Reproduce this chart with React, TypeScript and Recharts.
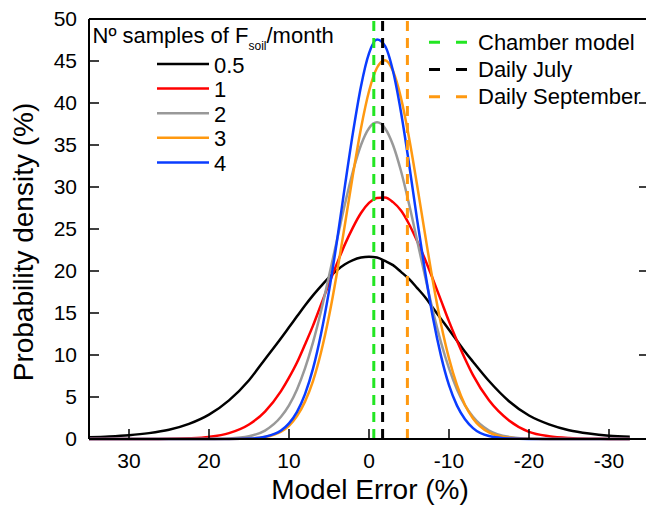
import { LineChart, Line, XAxis, YAxis, ReferenceLine } from 'recharts';

const FONT = '"Liberation Sans", Arial, sans-serif';

// model error (%) sampled along the x axis
const errorPct = [
  35, 32.5, 30, 27.5, 25, 22.5, 20, 17.5, 15,
  13, 11, 10, 9, 8, 7, 6, 5, 4, 3, 2, 1, 0,
  -1, -2, -3, -4, -5, -6, -7, -8, -9, -10, -11, -12, -13,
  -15, -17.5, -20, -22.5, -25, -27.5, -30, -32.6,
];

// probability density (%) for each number of samples per month
const pdf05 = [
  0.2, 0.3, 0.45, 0.7, 1.1, 1.8, 2.9, 4.6, 7.0,
  9.5, 12.0, 13.3, 14.6, 15.9, 17.1, 18.2, 19.25, 20.1, 20.8, 21.3, 21.6, 21.7,
  21.6, 21.2, 20.7, 19.9, 19.05, 18.0, 16.9, 15.6, 14.3, 13.0, 11.7, 10.4, 9.2,
  6.9, 4.5, 2.8, 1.75, 1.05, 0.65, 0.4, 0.28,
];
const pdf1 = [
  0, 0, 0, 0.01, 0.02, 0.08, 0.25, 0.7, 1.73,
  3.27, 5.7, 7.3, 9.1, 11.25, 13.5, 16.0, 18.5, 20.9, 23.2, 25.2, 26.9, 28.1,
  28.7, 28.75, 28.2, 27.2, 25.6, 23.6, 21.4, 19.0, 16.5, 14.0, 11.7, 9.55, 7.6,
  4.6, 2.2, 0.85, 0.33, 0.11, 0.03, 0.01, 0,
];
const pdf2 = [
  0, 0, 0, 0, 0, 0, 0.01, 0.07, 0.33,
  1.0, 2.64, 4.0, 5.9, 8.4, 11.5, 15.2, 19.4, 23.7, 28.0, 31.9, 35.0, 37.0,
  37.7, 37.0, 35.0, 31.9, 28.0, 23.7, 19.4, 15.2, 11.5, 8.4, 5.9, 4.0, 2.64,
  1.0, 0.25, 0.05, 0.01, 0, 0, 0, 0,
];
const pdf3 = [
  0, 0, 0, 0, 0, 0, 0, 0.01, 0.05,
  0.24, 0.88, 1.58, 2.72, 4.45, 6.9, 10.3, 14.6, 19.8, 25.6, 31.5, 37.0, 41.4,
  44.2, 45.1, 43.8, 40.6, 35.9, 30.3, 24.4, 18.7, 13.7, 9.6, 6.4, 4.05, 2.45,
  0.78, 0.14, 0.02, 0, 0, 0, 0, 0,
];
const pdf4 = [
  0, 0, 0, 0, 0, 0, 0, 0.01, 0.05,
  0.26, 1.0, 1.86, 3.24, 5.34, 8.37, 12.5, 17.6, 23.6, 30.2, 36.5, 42.0, 45.9,
  47.55, 46.8, 43.8, 38.9, 32.8, 26.2, 20.0, 14.4, 9.9, 6.4, 3.97, 2.35, 1.3,
  0.35, 0.05, 0, 0, 0, 0, 0, 0,
];

const sampleNames = ['0.5', '1', '2', '3', '4'];
const sampleColors = ['#000000', '#ff0000', '#999999', '#ff9910', '#0a3cff'];
const sampleValues = [pdf05, pdf1, pdf2, pdf3, pdf4];

// mean errors of the reference models
const refNames = ['Chamber model', 'Daily July', 'Daily September'];
const refErrors = [-0.6, -1.7, -4.8];
const refColors = ['#22e622', '#000000', '#ff9910'];

const xTicks = [30, 20, 10, 0, -10, -20, -30];
const yTicks = [0, 5, 10, 15, 20, 25, 30, 35, 40, 45, 50];
const rightTicks = [10, 20, 30, 40];

const rows = errorPct.map((x, i) => {
  const row: Record<string, number> = { x };
  sampleValues.forEach((vals, s) => {
    row['s' + s] = vals[i];
  });
  return row;
});

const tickStyle = { fill: '#000', fontSize: 21, fontFamily: FONT };

export default function App() {
  return (
    <div
      style={{
        position: 'absolute',
        left: 0,
        top: 0,
        width: 646,
        height: 506,
        overflow: 'hidden',
        background: '#fff',
        fontFamily: FONT,
      }}
    >
      <LineChart width={659} height={506} data={rows} margin={{ top: 19, right: 0, bottom: 0, left: 0 }}>
        <XAxis
          dataKey="x"
          type="number"
          domain={[-35, 35]}
          reversed
          allowDataOverflow
          ticks={xTicks}
          interval={0}
          height={67}
          stroke="#000"
          strokeWidth={2}
          tickSize={-10}
          tickMargin={24}
          tick={tickStyle}
          tickLine={{ stroke: '#000', strokeWidth: 1.5 }}
        />
        <YAxis
          domain={[0, 50]}
          ticks={yTicks}
          interval={0}
          width={89}
          stroke="#000"
          strokeWidth={2}
          tickSize={-10}
          tickMargin={22}
          tick={tickStyle}
          tickLine={{ stroke: '#000', strokeWidth: 1.5 }}
        />
        <YAxis
          yAxisId="r"
          orientation="right"
          domain={[0, 50]}
          allowDataOverflow
          ticks={rightTicks}
          interval={0}
          width={10}
          stroke="#000"
          strokeWidth={2}
          tickSize={-10}
          tick={() => <g />}
          tickLine={{ stroke: '#000', strokeWidth: 1.5 }}
        />
        <ReferenceLine y={50} stroke="#000" strokeWidth={2} />
        {/* invisible series so the right frame axis gets drawn */}
        <Line
          yAxisId="r"
          dataKey="s0"
          stroke="none"
          dot={false}
          activeDot={false}
          legendType="none"
          isAnimationActive={false}
        />
        {sampleNames.map((n, s) => (
          <Line
            key={n}
            dataKey={'s' + s}
            type="monotone"
            stroke={sampleColors[s]}
            strokeWidth={2.5}
            dot={false}
            activeDot={false}
            isAnimationActive={false}
          />
        ))}
        {refNames.map((n, i) => (
          <ReferenceLine
            key={n}
            x={refErrors[i]}
            stroke={refColors[i]}
            strokeWidth={3}
            strokeDasharray="10 7"
          />
        ))}
      </LineChart>

      <svg
        width={646}
        height={506}
        style={{ position: 'absolute', left: 0, top: 0, pointerEvents: 'none' }}
        fontFamily={FONT}
      >
        <text x={92.5} y={43} fontSize={22} fill="#000">
          Nº samples of F<tspan dy={7} fontSize={12}>soil</tspan>
          <tspan dy={-7}>/month</tspan>
        </text>
        {sampleNames.map((n, s) => (
          <g key={n}>
            <line x1={157} x2={209} y1={64 + s * 24.6} y2={64 + s * 24.6} stroke={sampleColors[s]} strokeWidth={2.5} />
            <text x={214} y={72.5 + s * 24.6} fontSize={22} fill="#000">
              {n}
            </text>
          </g>
        ))}
        {refNames.map((n, i) => (
          <g key={n}>
            <line
              x1={429}
              x2={468}
              y1={42.3 + i * 27.2}
              y2={42.3 + i * 27.2}
              stroke={refColors[i]}
              strokeWidth={3}
              strokeDasharray="11 16"
            />
            <text x={478} y={49.5 + i * 27.2} fontSize={22} fill="#000">
              {n}
            </text>
          </g>
        ))}
        <text x={370} y={499} fontSize={28} fill="#000" textAnchor="middle">
          Model Error (%)
        </text>
        <text
          x={0}
          y={0}
          fontSize={28}
          fill="#000"
          textAnchor="middle"
          transform="translate(33,242) rotate(-90)"
        >
          Probability density (%)
        </text>
      </svg>
    </div>
  );
}
